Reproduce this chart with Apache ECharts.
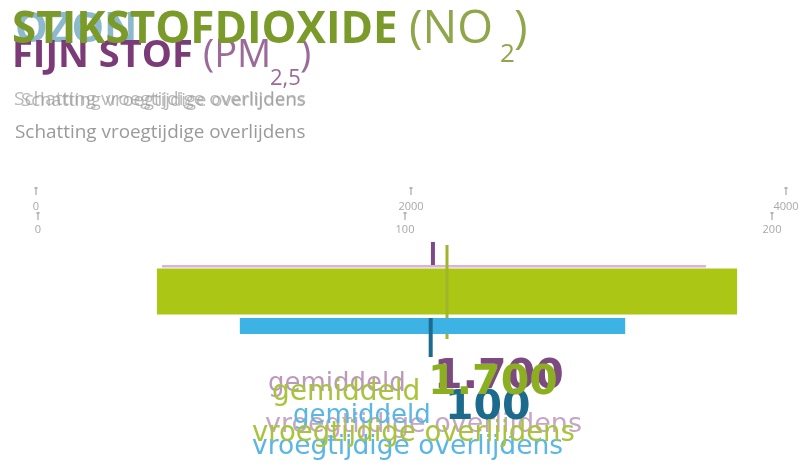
<!DOCTYPE html>
<html>
<head>
<meta charset="utf-8">
<script src="https://cdn.jsdelivr.net/npm/echarts@6/dist/echarts.min.js"></script>
<style>
html,body{margin:0;padding:0;background:#fff;}
#chart{width:802px;height:471px;}
</style>
</head>
<body>
<div id="chart"></div>
<script>
// ---- data ----
const categories = ['Fijn stof (PM2,5)', 'Stikstofdioxide (NO2)', 'Ozon (O3)'];
const lowValues  = [672, 645, 55];
const highValues = [3573, 3739, 160];
const meanValues = [2117, 2192, 107];
const meanLabels = ['1.700', '1.700', '100'];
const ticksLarge = [0, 2000, 4000];
const ticksSmall = [0, 100, 200];

const chart = echarts.init(document.getElementById('chart'));

function makeRender(band, markBand, barColor, markColor, markWidth) {
  return function (params, api) {
    const lo = api.value(0), hi = api.value(1), mean = api.value(2);
    const a = api.coord([lo, band[0]]);
    const b = api.coord([hi, band[1]]);
    const m1 = api.coord([mean, markBand[0]]);
    const m2 = api.coord([mean, markBand[1]]);
    return {
      type: 'group',
      children: [
        { type: 'rect', shape: { x: a[0], y: a[1], width: b[0] - a[0], height: b[1] - a[1] }, style: { fill: barColor } },
        { type: 'line', shape: { x1: m1[0], y1: m1[1], x2: m2[0], y2: m2[1] }, style: { stroke: markColor, lineWidth: markWidth } }
      ]
    };
  };
}

// tick mark: short vertical stroke with a small head, placed through the axis scale
function renderTick(params, api) {
  const top = api.coord([api.value(0), 1]);
  const bot = api.coord([api.value(0), 0]);
  return {
    type: 'group',
    children: [
      { type: 'line', shape: { x1: top[0], y1: top[1], x2: bot[0], y2: bot[1] }, style: { stroke: '#b3b3b3', lineWidth: 1.4 } },
      { type: 'rect', shape: { x: top[0] - 1.5, y: top[1], width: 3, height: 2 }, style: { fill: '#b3b3b3' } }
    ]
  };
}

function visibleAxis(gridIndex, ticks, margin) {
  return {
    type: 'value', gridIndex: gridIndex, position: 'bottom',
    min: ticks[0], max: ticks[ticks.length - 1], interval: ticks[1] - ticks[0],
    axisLine: { show: false }, axisTick: { show: false }, splitLine: { show: false },
    axisLabel: { show: true, margin: margin, color: '#a8a8a8', fontSize: 11, fontFamily: 'Open Sans',
                 formatter: function (v) { return String(v); } }
  };
}
function hiddenAxis(gridIndex, ticks) {
  return { type: 'value', gridIndex: gridIndex, min: ticks[0], max: ticks[ticks.length - 1], show: false };
}

const gray = '#9a9a9a';
function txt(x, y, text, font, fill, z, opacity) {
  return { type: 'text', x: x, y: y, z: z || 10, style: { text: text, font: font, fill: fill, align: 'left', verticalAlign: 'middle', opacity: opacity == null ? 1 : opacity } };
}

const option = {
  animation: false,
  grid: [
    { left: 38, right: 30, top: 240, height: 120 },   // bars, small scale
    { left: 36, right: 16, top: 240, height: 120 },   // bars, large scale
    { left: 36, right: 16, top: 187, height: 8 },     // large-scale ticks + labels
    { left: 38, right: 30, top: 212, height: 8 }      // small-scale ticks + labels
  ],
  xAxis: [
    hiddenAxis(0, ticksSmall),
    hiddenAxis(1, ticksLarge),
    visibleAxis(2, ticksLarge, 6),
    visibleAxis(3, ticksSmall, 4)
  ],
  yAxis: [
    { type: 'value', gridIndex: 0, min: 0, max: 120, inverse: true, show: false },
    { type: 'value', gridIndex: 1, min: 0, max: 120, inverse: true, show: false },
    { type: 'value', gridIndex: 2, min: 0, max: 1, show: false },
    { type: 'value', gridIndex: 3, min: 0, max: 1, show: false }
  ],
  series: [
    {
      name: categories[0], type: 'custom', xAxisIndex: 1, yAxisIndex: 1, clip: false, z: 2,
      renderItem: makeRender([25, 27.5], [2, 25], '#dcb2d6', '#7b4a88', 4),
      data: [[lowValues[0], highValues[0], meanValues[0]]]
    },
    {
      name: categories[1], type: 'custom', xAxisIndex: 1, yAxisIndex: 1, clip: false, z: 3,
      renderItem: makeRender([28.5, 74.5], [5, 99], '#abc614', '#9fb52c', 3),
      data: [[lowValues[1], highValues[1], meanValues[1]]]
    },
    {
      name: categories[2], type: 'custom', xAxisIndex: 0, yAxisIndex: 0, clip: false, z: 4,
      renderItem: makeRender([78, 94], [78, 117], '#3db3e5', '#1d6a8f', 4),
      data: [[lowValues[2], highValues[2], meanValues[2]]]
    },
    {
      name: 'ticksLarge', type: 'custom', xAxisIndex: 2, yAxisIndex: 2, clip: false, z: 2,
      renderItem: renderTick, data: ticksLarge.map(function (v) { return [v]; })
    },
    {
      name: 'ticksSmall', type: 'custom', xAxisIndex: 3, yAxisIndex: 3, clip: false, z: 2,
      renderItem: renderTick, data: ticksSmall.map(function (v) { return [v]; })
    }
  ],
  graphic: [
    // titles
    txt(15, 30, 'OZON', 'bold 41px "Open Sans"', '#2f7fa6', 10, 0.55),
    txt(12, 30, 'STIKSTOFDIOXIDE', 'bold 44px "Open Sans"', '#7a9a2a', 12),
    txt(409, 30, '(NO', '46px "Open Sans"', '#8fa64a', 12),
    txt(500, 55, '2', '26px "Open Sans"', '#8fa64a', 12),
    txt(514, 30, ')', '46px "Open Sans"', '#8fa64a', 12),
    txt(12, 56, 'FIJN STOF', 'bold 38px "Open Sans"', '#7b3a78', 11),
    txt(203, 56, '(PM', '38px "Open Sans"', '#9a6a98', 11),
    txt(270, 79, '2,5', '22px "Open Sans"', '#9a6a98', 11),
    txt(300, 56, ')', '38px "Open Sans"', '#9a6a98', 11),
    // subtitles
    txt(14, 100, 'Schatting vroegtijdige overlijdens', '19px "Open Sans"', gray, 10, 0.7),
    txt(21, 101, 'Schatting vroegtijdige overlijdens', '18.5px "Open Sans"', gray, 10, 0.7),
    txt(15, 133, 'Schatting vroegtijdige overlijdens', '18.9px "Open Sans"', gray, 10),
    // bottom labels
    txt(268, 384, 'gemiddeld', '26px "DejaVu Sans"', '#bd98bb', 20),
    txt(265, 425, 'vroegtijdige overlijdens', '27px "DejaVu Sans"', '#c6a6c4', 20),
    txt(434, 377, meanLabels[0], 'bold 41px "DejaVu Sans"', '#7d4a80', 21),
    txt(293, 416, 'gemiddeld', '26px "DejaVu Sans"', '#5ab6e2', 22),
    txt(252, 447, 'vroegtijdige overlijdens', '26.5px "DejaVu Sans"', '#5ab6e2', 22),
    txt(445, 408, meanLabels[2], 'bold 41px "DejaVu Sans"', '#1c6b8d', 23),
    txt(272, 393, 'gemiddeld', '28px "DejaVu Sans"', '#a9c43c', 24),
    txt(252, 434, 'vroegtijdige overlijdens', '27.5px "DejaVu Sans"', '#a9c43c', 24),
    txt(428, 383, meanLabels[1], 'bold 41px "DejaVu Sans"', '#8caf22', 25)
  ]
};
chart.setOption(option);
</script>
</body>
</html>
